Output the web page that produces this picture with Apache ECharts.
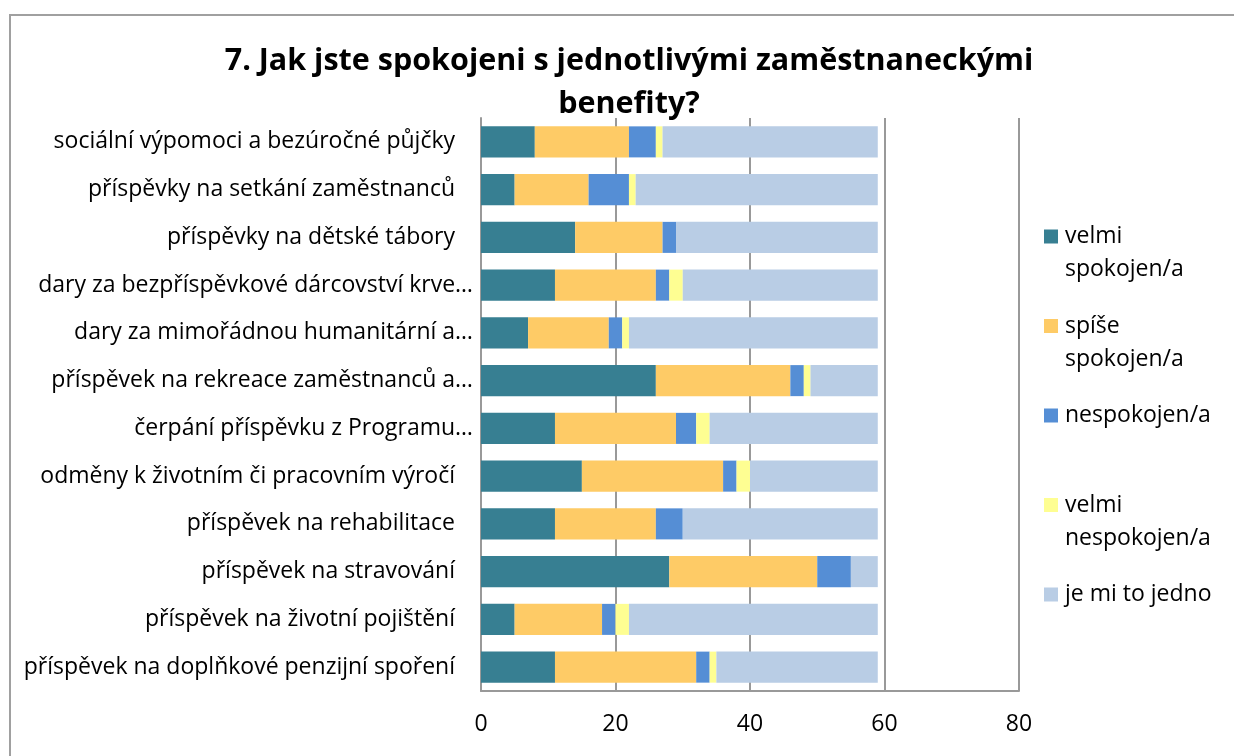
<!DOCTYPE html>
<html>
<head>
<meta charset="utf-8">
<script src="https://cdn.jsdelivr.net/npm/echarts@6/dist/echarts.min.js"></script>
<style>
html,body{margin:0;padding:0;background:#fff;}
#chart{width:1234px;height:756px;}
</style>
</head>
<body>
<div id="chart"></div>
<script>
const categories = [
  "sociální výpomoci a bezúročné půjčky",
  "příspěvky na setkání zaměstnanců",
  "příspěvky na dětské tábory",
  "dary za bezpříspěvkové dárcovství krve…",
  "dary za mimořádnou humanitární a…",
  "příspěvek na rekreace zaměstnanců a…",
  "čerpání příspěvku z Programu…",
  "odměny k životním či pracovním výročí",
  "příspěvek na rehabilitace",
  "příspěvek na stravování",
  "příspěvek na životní pojištění",
  "příspěvek na doplňkové penzijní spoření"
];
const seriesNames = ["velmi spokojen/a", "spíše spokojen/a", "nespokojen/a", "velmi nespokojen/a", "je mi to jedno"];
const velmiSpokojen    = [8, 5, 14, 11, 7, 26, 11, 15, 11, 28, 5, 11];
const spiseSpokojen    = [14, 11, 13, 15, 12, 20, 18, 21, 15, 22, 13, 21];
const nespokojen       = [4, 6, 2, 2, 2, 2, 3, 2, 4, 5, 2, 2];
const velmiNespokojen  = [1, 1, 0, 2, 1, 1, 2, 2, 0, 0, 2, 1];
const jeMiToJedno      = [32, 36, 30, 29, 37, 10, 25, 19, 29, 4, 37, 24];
const xTicks = { min: 0, max: 80, interval: 20 };
const titleText = "7. Jak jste spokojeni s jednotlivými zaměstnaneckými\nbenefity?";

const colors = ["#377F92", "#FECB66", "#558ED5", "#FEFE92", "#B9CDE5"];
const legendLabels = {
  "velmi spokojen/a": " \nvelmi\nspokojen/a",
  "spíše spokojen/a": " \nspíše\nspokojen/a",
  "nespokojen/a": " \nnespokojen/a\n ",
  "velmi nespokojen/a": " \nvelmi\nnespokojen/a",
  "je mi to jedno": " \nje mi to jedno\n "
};
const values = [velmiSpokojen, spiseSpokojen, nespokojen, velmiNespokojen, jeMiToJedno];
const FONT = "'Open Sans', 'Noto Sans', sans-serif";

const chart = echarts.init(document.getElementById('chart'), null, {renderer: 'canvas'});
chart.setOption({
  backgroundColor: '#fff',
  animation: false,
  textStyle: { fontFamily: FONT },
  title: {
    text: titleText,
    left: 624,
    textAlign: 'center',
    top: 35,
    textStyle: { fontFamily: FONT, fontSize: 30.5, fontWeight: 'bold', color: '#000', lineHeight: 43 }
  },
  graphic: [{
    type: 'rect', z: -1, silent: true,
    shape: { x: 10, y: 15, width: 1400, height: 900 },
    style: { fill: 'none', stroke: '#a0a0a0', lineWidth: 2 }
  }],
  legend: {
    orient: 'vertical',
    left: 1044,
    top: 187,
    padding: 0,
    itemGap: -9.5,
    itemWidth: 14,
    itemHeight: 14,
    icon: 'rect',
    data: seriesNames,
    formatter: n => legendLabels[n],
    textStyle: { fontFamily: FONT, fontSize: 23, color: '#000', lineHeight: 33, padding: [0, 0, 0, 2] }
  },
  grid: { left: 481, right: 215, top: 118, bottom: 65, containLabel: false },
  xAxis: {
    type: 'value',
    min: xTicks.min, max: xTicks.max, interval: xTicks.interval,
    axisLine: { show: true, lineStyle: { color: '#999', width: 2 } },
    axisTick: { show: false },
    axisLabel: { fontFamily: FONT, fontSize: 23, color: '#000', margin: 22 },
    splitLine: { show: true, lineStyle: { color: '#999', width: 2 } }
  },
  yAxis: {
    type: 'category',
    data: categories,
    inverse: true,
    axisLine: { show: true, lineStyle: { color: '#999', width: 2 } },
    axisTick: { show: false },
    axisLabel: {
      fontFamily: FONT, fontSize: 23, color: '#000', margin: 8,
      formatter: v => v.endsWith('…') ? '{t|' + v + '}' : '{p|' + v + '}',
      rich: {
        t: { fontFamily: FONT, fontSize: 23, color: '#000' },
        p: { fontFamily: FONT, fontSize: 23, color: '#000', padding: [0, 18, 0, 0] }
      }
    }
  },
  series: seriesNames.map((name, i) => ({
    name: name,
    type: 'bar',
    stack: 'total',
    barCategoryGap: '35%',
    itemStyle: { color: colors[i] },
    data: values[i]
  }))
});
</script>
</body>
</html>
